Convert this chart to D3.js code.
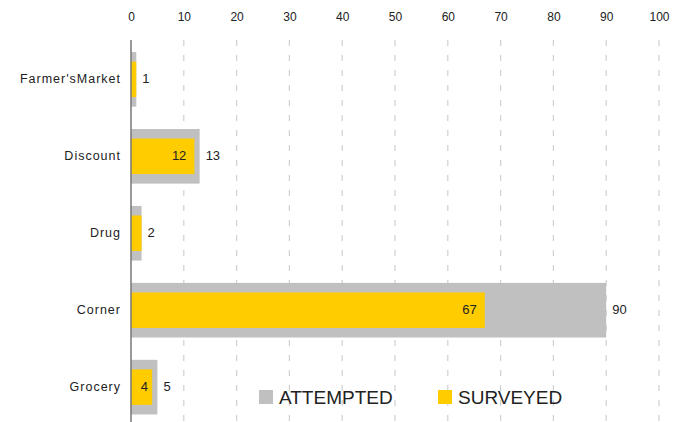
<!DOCTYPE html>
<html>
<head>
<meta charset="utf-8">
<script src="https://cdn.jsdelivr.net/npm/d3@7"></script>
<style>
  html, body { margin: 0; padding: 0; background: #fff; }
  svg { display: block; font-family: "Liberation Sans", Arial, sans-serif; }
</style>
</head>
<body>
<svg id="chart" width="683" height="422"></svg>
<script>
// Store types and counts
const categories = ["Farmer'sMarket", "Discount", "Drug", "Corner", "Grocery"];
const attempted = [1, 13, 2, 90, 5];
const surveyed = [1, 12, 2, 67, 4];
const tickValues = [0, 10, 20, 30, 40, 50, 60, 70, 80, 90, 100];
const legendItems = ["ATTEMPTED", "SURVEYED"];

const colors = { attempted: "#c0c0c0", surveyed: "#ffcc00" };

const svg = d3.select("#chart");
const W = 683, H = 422;

const x = d3.scaleLinear().domain([0, 100]).range([131, 659]);
const y = d3.scaleBand().domain(categories).range([40.5, 426]).paddingInner(0.29).paddingOuter(0.15);

// Dashed vertical gridlines
svg.append("g")
  .selectAll("line")
  .data(tickValues.filter(v => v > 0))
  .join("line")
  .attr("x1", d => x(d)).attr("x2", d => x(d))
  .attr("y1", 40).attr("y2", H)
  .attr("stroke", "#d0d0d0")
  .attr("stroke-width", 1.2)
  .attr("stroke-dasharray", "6,9");

// Top axis labels
const xAxis = d3.axisTop(x).tickValues(tickValues).tickSize(0).tickPadding(0);
const gx = svg.append("g").attr("transform", "translate(0,21)").call(xAxis);
gx.select(".domain").remove();
gx.selectAll("text")
  .attr("font-family", "Liberation Sans, Arial, sans-serif")
  .attr("font-size", 12)
  .attr("fill", "#222");

const rows = categories.map((c, i) => ({ c, a: attempted[i], s: surveyed[i] }));

// Attempted bars
svg.append("g")
  .selectAll("rect")
  .data(rows)
  .join("rect")
  .attr("x", x(0))
  .attr("y", d => y(d.c))
  .attr("width", d => x(d.a) - x(0))
  .attr("height", y.bandwidth())
  .attr("fill", colors.attempted);

// Surveyed bars (narrower, centred in band)
const innerH = y.bandwidth() * 0.65;
svg.append("g")
  .selectAll("rect")
  .data(rows)
  .join("rect")
  .attr("x", x(0))
  .attr("y", d => y(d.c) + (y.bandwidth() - innerH) / 2)
  .attr("width", d => x(d.s) - x(0))
  .attr("height", innerH)
  .attr("fill", colors.surveyed);

// Left axis line and category labels
const yAxis = d3.axisLeft(y).tickSize(0).tickPadding(10);
const gy = svg.append("g").attr("transform", `translate(${x(0)},0)`).call(yAxis);
gy.select(".domain").remove();
gy.selectAll("text")
  .attr("font-family", "Liberation Sans, Arial, sans-serif")
  .attr("font-size", 12.5)
  .attr("letter-spacing", 1)
  .attr("dy", "0.28em")
  .attr("fill", "#222");
svg.append("line")
  .attr("x1", x(0)).attr("x2", x(0))
  .attr("y1", 40).attr("y2", H)
  .attr("stroke", "#777")
  .attr("stroke-width", 1.5);

// Value labels: attempted outside, surveyed inside end
svg.append("g")
  .selectAll("text")
  .data(rows)
  .join("text")
  .attr("x", d => x(d.a) + 6)
  .attr("y", d => y(d.c) + y.bandwidth() / 2)
  .attr("dy", "0.3em")
  .attr("font-size", 13)
  .attr("fill", "#222")
  .text(d => d.a);

svg.append("g")
  .selectAll("text")
  .data(rows.filter(d => d.s < d.a))
  .join("text")
  .attr("x", d => Math.max(x(d.s) - 8, x(0) + 17))
  .attr("y", d => y(d.c) + y.bandwidth() / 2)
  .attr("dy", "0.3em")
  .attr("text-anchor", "end")
  .attr("font-size", 13)
  .attr("fill", "#222")
  .text(d => d.s);

// Legend
const legend = svg.append("g");
const legendX = [259, 438];
legendItems.forEach((name, i) => {
  legend.append("rect")
    .attr("x", legendX[i]).attr("y", 390)
    .attr("width", 14).attr("height", 14)
    .attr("fill", i === 0 ? colors.attempted : colors.surveyed);
  legend.append("text")
    .attr("x", legendX[i] + 20).attr("y", 397)
    .attr("dy", "0.36em")
    .attr("font-size", 19)
    .attr("fill", "#222")
    .text(name);
});
</script>
</body>
</html>
